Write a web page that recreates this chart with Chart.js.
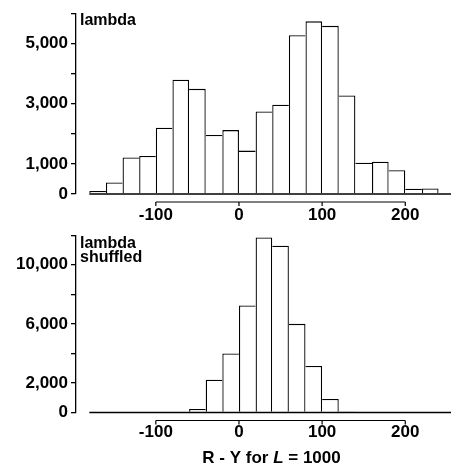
<!DOCTYPE html>
<html><head><meta charset="utf-8">
<script src="https://cdn.jsdelivr.net/npm/chart.js@4"></script>
<style>
html,body{margin:0;padding:0;background:#fff;width:451px;height:466px;overflow:hidden}
canvas{position:absolute;left:0}
#c1{top:0}
#c2{top:222px}
</style>
</head><body>
<canvas id="c1" width="451" height="225"></canvas>
<canvas id="c2" width="451" height="244"></canvas>
<script>
// ---- data ----
const binWidth = 20;
const topBinCenters = [-170,-150,-130,-110,-90,-70,-50,-30,-10,10,30,50,70,90,110,130,150,170,190,210,230];
const topCounts     = [100,380,1210,1260,2200,3790,3490,1960,2120,1440,2740,2960,5270,5730,5580,3270,1040,1070,790,175,185];
const bottomBinCenters = [-50,-30,-10,10,30,50,70,90,110,130];
const bottomCounts     = [245,2220,4000,7250,11850,11290,6000,3150,910,70];
const xTickValues = [-100,0,100,200];
const topYLabels = [0,1000,3000,5000];
const bottomYLabels = [0,2000,6000,10000];
const topLabelLines = ['lambda'];
const bottomLabelLines = ['lambda','shuffled'];
const xTitleParts = [['R - Y for ', false], ['L', true], [' = 1000', false]];
const baselineStart = -180;

const FONT = '"Liberation Sans", Arial, Helvetica, sans-serif';
Chart.defaults.color = '#000';
Chart.defaults.font.family = FONT;

function barBorder(ctx) {
  const d = ctx.dataset.data, i = ctx.dataIndex, v = d[i].y, lw = 1.3;
  return {
    top: lw, bottom: 0,
    left: (i === 0 || v >= d[i-1].y) ? lw : 0,
    right: (i === d.length - 1 || v > d[i+1].y) ? lw : 0
  };
}

function makeChart(id, centers, counts, yMax, yStep, yLabels, xAxisHeight, xPad, labelLines, labelBaselines, withTitle) {
  const decor = {
    id: 'decor' + id,
    afterDatasetsDraw(chart) {
      const c = chart.ctx, a = chart.chartArea, xs = chart.scales.x;
      c.save();
      c.strokeStyle = '#000';
      c.fillStyle = '#000';
      // baseline at y = 0
      c.lineWidth = 1.5;
      c.beginPath();
      c.moveTo(xs.getPixelForValue(baselineStart), a.bottom);
      c.lineTo(a.right, a.bottom);
      c.stroke();
      // detached x axis line with ticks
      const yl = a.bottom + 8;
      c.lineWidth = 1.2;
      c.beginPath();
      c.moveTo(xs.getPixelForValue(xTickValues[0]), yl);
      c.lineTo(xs.getPixelForValue(xTickValues[xTickValues.length-1]), yl);
      xTickValues.forEach(v => {
        const px = xs.getPixelForValue(v);
        c.moveTo(px, yl); c.lineTo(px, yl + 4);
      });
      c.stroke();
      // panel label
      c.font = 'bold 16px ' + FONT;
      c.textBaseline = 'alphabetic';
      c.textAlign = 'left';
      labelLines.forEach((t, k) => c.fillText(t, a.left + 4, labelBaselines[k]));
      // axis title with italic L
      if (withTitle) {
        const fonts = xTitleParts.map(p => (p[1] ? 'italic ' : '') + 'bold 17px ' + FONT);
        let total = 0;
        const widths = xTitleParts.map((p, k) => { c.font = fonts[k]; const w = c.measureText(p[0]).width; total += w; return w; });
        let x = (a.left + a.right) / 2 + 8 - total / 2;
        const yb = chart.height - 3.5;
        xTitleParts.forEach((p, k) => { c.font = fonts[k]; c.fillText(p[0], x, yb); x += widths[k]; });
      }
      c.restore();
    }
  };
  return new Chart(document.getElementById(id), {
    type: 'bar',
    data: {
      datasets: [{
        data: centers.map((x, i) => ({x: x, y: counts[i]})),
        backgroundColor: '#fff',
        borderColor: '#000',
        borderWidth: barBorder,
        borderSkipped: false,
        inflateAmount: 0,
        barPercentage: 1,
        categoryPercentage: 1
      }]
    },
    options: {
      responsive: false,
      animation: false,
      events: [],
      layout: {padding: {top: 11, left: 0, right: 0, bottom: 0}},
      plugins: {legend: {display: false}, tooltip: {enabled: false}},
      scales: {
        x: {
          type: 'linear', min: -196, max: 255, offset: false,
          grid: {display: false, drawTicks: false},
          border: {display: false},
          afterBuildTicks: s => { s.ticks = xTickValues.map(v => ({value: v})); },
          afterFit: s => { s.height = xAxisHeight; },
          ticks: {
            padding: xPad, maxRotation: 0, autoSkip: false,
            font: {size: 17, weight: 'bold'},
            callback: v => String(v)
          }
        },
        y: {
          min: 0, max: yMax,
          grid: {drawOnChartArea: false, drawTicks: true, tickLength: 5, color: '#000', lineWidth: 1.3},
          border: {display: true, color: '#000', width: 1.3},
          afterFit: s => { s.width = 76; },
          ticks: {
            stepSize: yStep, autoSkip: false, padding: 3,
            font: {size: 17, weight: 'bold'},
            callback: v => yLabels.includes(v) ? v.toLocaleString('en-US') : ''
          }
        }
      }
    },
    plugins: [decor]
  });
}

makeChart('c1', topBinCenters, topCounts, 6000, 1000, topYLabels, 31, 11.5, topLabelLines, [25], false);
makeChart('c2', bottomBinCenters, bottomCounts, 12000, 2000, bottomYLabels, 53.5, 10, bottomLabelLines, [25.5, 40], true);
</script>
</body></html>
